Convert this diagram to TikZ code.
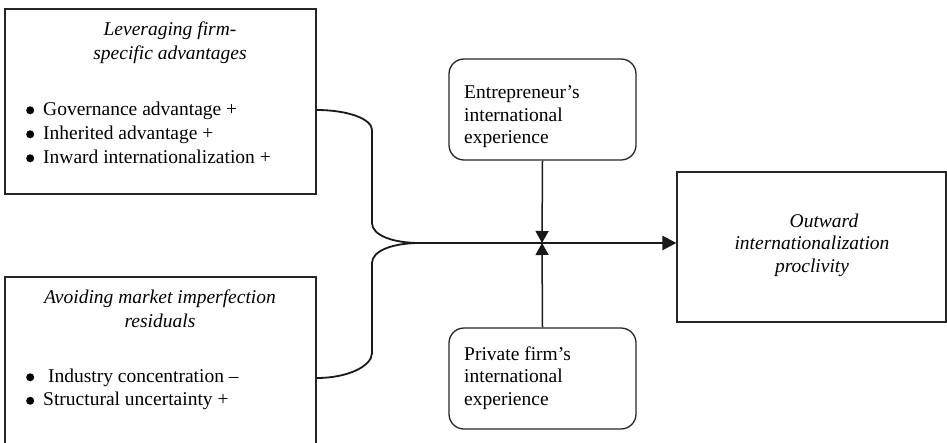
\documentclass[tikz,border=0pt]{standalone}
\usepackage{fontspec}
\setmainfont{Liberation Serif}
\usetikzlibrary{arrows.meta}
\newcommand\bul{\makebox[17pt][l]{\raisebox{1pt}{\tikz\fill[black] (0,0) circle (4pt);}}}
\tikzset{
  txt/.style={inner sep=0pt, font=\fontsize{19.5}{23.5}\selectfont, text=black, execute at begin node=\strut},
  box/.style={draw=black!85, line width=1.3pt, inner sep=0pt},
  rbox/.style={box, rounded corners=15pt},
  brace/.style={draw=black!90, line width=1.8pt},
  mainarrow/.style={draw=black!90, line width=2.6pt, -{Triangle[length=14pt,width=14pt]}},
  modarrow/.style={draw=black!90, line width=1.5pt, -{Triangle[length=12pt,width=13pt]}},
}
\begin{document}
\begin{tikzpicture}[x=1pt,y=-1pt]
\useasboundingbox (0,0) rectangle (947,442);
% boxes
\node[box, minimum width=311pt, minimum height=185pt] (b1) at (160.5,101.5) {};
\node[box, minimum width=311pt, minimum height=170pt] (b2) at (160.5,362) {};
\node[box, minimum width=269pt, minimum height=150pt] (b3) at (811.5,247) {};
\node[rbox, minimum width=187pt, minimum height=101pt] (ent) at (542.5,109.5) {};
\node[rbox, minimum width=187pt, minimum height=101pt] (prv) at (542.5,378.5) {};
% texts
\node[txt, anchor=north, align=center, font=\fontsize{19.5}{24}\selectfont\itshape] (t1) at (170,38-16.45) {Leveraging firm-\\specific advantages};
\node[txt, anchor=north west, align=left, font=\fontsize{19.5}{24}\selectfont] (l1) at (26,118-16.45) {\bul Governance advantage +\\\bul Inherited advantage +\\\bul Inward internationalization +};
\node[txt, anchor=north, align=center, font=\fontsize{19.5}{24}\selectfont\itshape] (t2) at (160,306-16.45) {Avoiding market imperfection\\residuals};
\node[txt, anchor=north west, align=left, font=\fontsize{19.5}{23.5}\selectfont] (l2) at (26,385-16.45) {\bul\ Industry concentration --\\\bul Structural uncertainty +};
\node[txt, anchor=north west, align=left, font=\fontsize{19.5}{22.5}\selectfont] (te) at (464,102-16.45) {Entrepreneur’s\\international\\experience};
\node[txt, anchor=north west, align=left, font=\fontsize{19.5}{22.5}\selectfont] (tp) at (464,363-16.45) {Private firm’s\\international\\experience};
\node[txt, anchor=north, align=center, font=\fontsize{19.5}{22.5}\selectfont\itshape] (t3) at (812,230-16.45) {\hspace*{24pt}Outward\\internationalization\\proclivity};
% connectors
\coordinate (j) at (420,243);
\coordinate (m) at (542,243);
\coordinate (u0) at (b1.east |- 0,110);
\coordinate (d0) at (b2.east |- 0,378);
\draw[brace] (u0) .. controls (348,110) and (372,119) .. (372,130) -- (372,223) .. controls (372,235) and (392,243) .. (j);
\draw[brace] (j) .. controls (392,243) and (372,251) .. (372,263) -- (372,353) .. controls (372,366) and (348,378) .. (d0);
\draw[mainarrow] (j) -- (b3.west |- j);
\draw[modarrow] (ent.south) -- (m);
\draw[modarrow] (prv.north) -- (m);
\end{tikzpicture}
\end{document}
